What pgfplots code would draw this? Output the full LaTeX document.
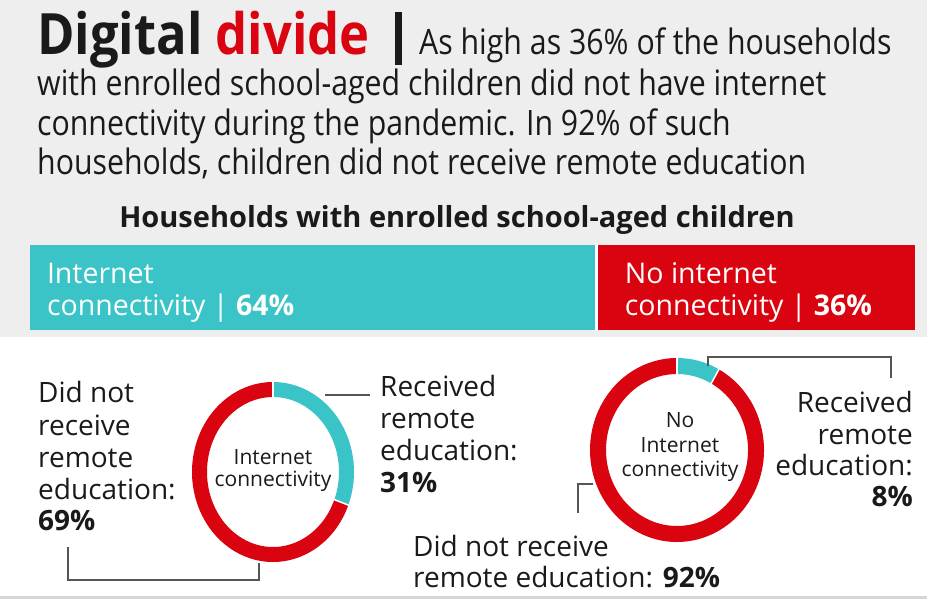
\documentclass[border=0pt]{standalone}
\usepackage{pgfplots}
\pgfplotsset{compat=1.18}
\usepackage{pgfplotstable}
\usepackage{fontspec}
\setmainfont{Open Sans}
\newfontfamily\condfont[FakeStretch=0.865]{Open Sans}
\newfontfamily\titlefontfam[FakeStretch=0.89]{Open Sans}
\definecolor{cyanc}{HTML}{3AC4C7}
\definecolor{redc}{HTML}{D9040F}
\definecolor{bgc}{HTML}{EEEEEE}
\definecolor{txt}{HTML}{1A1A1A}
\definecolor{linec}{HTML}{555555}

% share of households with enrolled school-aged children
\pgfplotstableread{
group share
internet 64
nointernet 36
}\bardata
% remote education within each group
\pgfplotstableread{
ring received notreceived
internet 31 69
nointernet 8 92
}\donuts
\pgfplotstablegetelem{0}{received}\of\donuts \let\recA\pgfplotsretval
\pgfplotstablegetelem{1}{received}\of\donuts \let\recB\pgfplotsretval
\pgfmathsetmacro\angA{90-3.6*\recA}
\pgfmathsetmacro\angB{90-3.6*\recB}

\newcommand\para{\condfont\fontsize{35bp}{40bp}\selectfont}
\newcommand\lab{\fontsize{28bp}{32bp}\selectfont}
\newcommand\ctr{\fontsize{21bp}{24bp}\selectfont}
\newcommand\barlab{\fontsize{28.5bp}{32bp}\selectfont}

\begin{document}
\begin{tikzpicture}
\path[use as bounding box] (0,0) rectangle (927bp,599bp);
\begin{axis}[at={(0,0)}, anchor=south west, width=927bp, height=599bp,
  scale only axis, xmin=0, xmax=927, ymin=0, ymax=599, hide axis, clip=false]
  % backgrounds
  \fill[white] (axis cs:0,0) rectangle (axis cs:927,599);
  \fill[bgc] (axis cs:0,262) rectangle (axis cs:927,599);
  \fill[bgc!90!black] (axis cs:0,0) rectangle (axis cs:927,2.5);
  % title block
  \node[anchor=base west, inner sep=0, txt] at (axis cs:37,544)
    {\titlefontfam\bfseries\fontsize{57bp}{60bp}\selectfont Digital \textcolor{redc}{divide}};
  \fill[txt] (axis cs:395,534) rectangle (axis cs:401.5,587);
  \node[anchor=base west, inner sep=0, txt] at (axis cs:419,544) {\para As high as 36\% of the households};
  \node[anchor=base west, inner sep=0, txt] at (axis cs:37,503) {\para with enrolled school-aged children did not have internet};
  \node[anchor=base west, inner sep=0, txt] at (axis cs:37,463) {\para connectivity during the pandemic. In 92\% of such};
  \node[anchor=base west, inner sep=0, txt] at (axis cs:37,424) {\para households, children did not receive remote education};
  \node[anchor=base, inner sep=0, txt] at (axis cs:457,371) {\bfseries\fontsize{29bp}{32bp}\selectfont Households with enrolled school-aged children};
  % donut 1
  \draw[cyanc, line width=15bp] (axis cs:273,127) ++(90:73.5bp and 82.5bp)
     arc[start angle=90, end angle=\angA, x radius=73.5bp, y radius=82.5bp];
  \draw[redc, line width=15bp] (axis cs:273,127) ++(\angA:73.5bp and 82.5bp)
     arc[start angle=\angA, end angle=-270, x radius=73.5bp, y radius=82.5bp];
  \draw[white, line width=1.5bp, shift={(axis cs:273,127)}] (\angA:65bp and 74bp) -- (\angA:82bp and 91bp);
  \draw[white, line width=1.5bp, shift={(axis cs:273,127)}] (90:65bp and 74bp) -- (90:82bp and 91bp);
  % donut 2
  \draw[cyanc, line width=16bp] (axis cs:677,149) ++(90:79bp and 84bp)
     arc[start angle=90, end angle=\angB, x radius=79bp, y radius=84bp];
  \draw[redc, line width=16bp] (axis cs:677,149) ++(\angB:79bp and 84bp)
     arc[start angle=\angB, end angle=-270, x radius=79bp, y radius=84bp];
  \draw[white, line width=1.5bp, shift={(axis cs:677,149)}] (\angB:70bp and 75bp) -- (\angB:88bp and 93bp);
  \draw[white, line width=1.5bp, shift={(axis cs:677,149)}] (90:70bp and 75bp) -- (90:88bp and 93bp);
  % connectors
  \draw[linec, line width=1.5bp] (axis cs:325,204) -- (axis cs:370,204);
  \draw[linec, line width=1.5bp] (axis cs:259,36) -- (axis cs:259,19) -- (axis cs:68,19) -- (axis cs:68,52);
  \draw[linec, line width=1.5bp] (axis cs:708,233) -- (axis cs:708,242) -- (axis cs:891,242) -- (axis cs:891,221);
  \draw[linec, line width=1.5bp] (axis cs:593,115) -- (axis cs:578,115) -- (axis cs:578,86);
  % donut 1 labels
  \node[anchor=base west, inner sep=0, txt] at (axis cs:38,196) {\lab Did not};
  \node[anchor=base west, inner sep=0, txt] at (axis cs:38,163) {\lab receive};
  \node[anchor=base west, inner sep=0, txt] at (axis cs:38,131) {\lab remote};
  \node[anchor=base west, inner sep=0, txt] at (axis cs:38,99) {\lab education:};
  \node[anchor=base west, inner sep=0, txt] at (axis cs:38,68) {\lab\bfseries 69\%};
  \node[anchor=base west, inner sep=0, txt] at (axis cs:380,202) {\lab Received};
  \node[anchor=base west, inner sep=0, txt] at (axis cs:380,170) {\lab remote};
  \node[anchor=base west, inner sep=0, txt] at (axis cs:380,138) {\lab education:};
  \node[anchor=base west, inner sep=0, txt] at (axis cs:380,106) {\lab\bfseries 31\%};
  \node[anchor=base, inner sep=0, txt] at (axis cs:273,134) {\ctr Internet};
  \node[anchor=base, inner sep=0, txt] at (axis cs:273,112) {\ctr connectivity};
  % donut 2 labels
  \node[anchor=base, inner sep=0, txt] at (axis cs:680,171) {\ctr No};
  \node[anchor=base, inner sep=0, txt] at (axis cs:680,146) {\ctr Internet};
  \node[anchor=base, inner sep=0, txt] at (axis cs:680,122) {\ctr connectivity};
  \node[anchor=base east, inner sep=0, txt] at (axis cs:913,186) {\lab Received};
  \node[anchor=base east, inner sep=0, txt] at (axis cs:913,154) {\lab remote};
  \node[anchor=base east, inner sep=0, txt] at (axis cs:913,123) {\lab education:};
  \node[anchor=base east, inner sep=0, txt] at (axis cs:913,92) {\lab\bfseries 8\%};
  \node[anchor=base west, inner sep=0, txt] at (axis cs:413,42) {\lab Did not receive};
  \node[anchor=base west, inner sep=0, txt] at (axis cs:413,12) {\lab remote education: \textbf{92\%}};
\end{axis}
% stacked bar
\begin{axis}[at={(30bp,269bp)}, anchor=south west, width=885bp, height=85bp,
  scale only axis, xmin=0, xmax=100, ymin=-0.5, ymax=0.5, hide axis, clip=false,
  xbar stacked, bar width=85bp]
  \addplot[fill=cyanc, draw=none] table[x=share, y expr=0, restrict expr to domain={\coordindex}{0:0}] {\bardata};
  \addplot[fill=redc, draw=none] table[x=share, y expr=0, restrict expr to domain={\coordindex}{1:1}] {\bardata};
\end{axis}
% bar labels (drawn over the bars)
\begin{axis}[at={(30bp,269bp)}, anchor=south west, width=885bp, height=85bp,
  scale only axis, xmin=0, xmax=100, ymin=-0.5, ymax=0.5, hide axis, clip=false]
  \draw[white, line width=3.5bp] (axis cs:64,-0.5) -- (axis cs:64,0.5);
  \node[anchor=base west, inner sep=0, white] at (axis cs:1.9,0.045) {\barlab Internet};
  \node[anchor=base west, inner sep=0, white] at (axis cs:1.9,-0.33) {\barlab connectivity | \textbf{64\%}};
  \node[anchor=base west, inner sep=0, white] at (axis cs:67.2,0.045) {\barlab No internet};
  \node[anchor=base west, inner sep=0, white] at (axis cs:67.2,-0.33) {\barlab connectivity | \textbf{36\%}};
\end{axis}
\end{tikzpicture}
\end{document}
